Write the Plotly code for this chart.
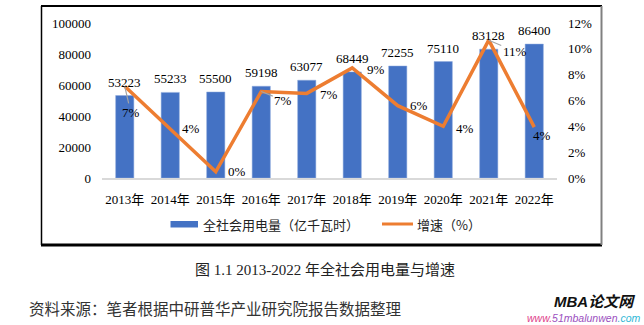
import plotly.graph_objects as go

# 全社会用电量（亿千瓦时）与增速
years = ["2013年", "2014年", "2015年", "2016年", "2017年",
         "2018年", "2019年", "2020年", "2021年", "2022年"]
consumption = [53223, 55233, 55500, 59198, 63077, 68449, 72255, 75110, 83128, 86400]
growth = [0.071, 0.038, 0.0048, 0.067, 0.0655, 0.0852, 0.056, 0.040, 0.1067, 0.0394]

# label offsets for the growth-rate labels (pixels, right / down)
label_dx = [6, 21, 21, 22, 22, 24, 21, 22, 26, 8]
label_dy = [26, 0, 0, 9, 1, 2, 0, 2, 11, 8]
leader = [True, False, False, True, False, False, False, False, True, False]

BLUE = "#4472C4"
ORANGE = "#ED7D31"
SERIF = "Liberation Serif, Noto Sans CJK SC, serif"
CJK = "Noto Sans CJK SC, sans-serif"

W, H = 644, 325
ML, MR, MT, MB = 102, 87, 23, 147
PW, PH = W - ML - MR, H - MT - MB


def px(x):
    return (x - ML) / PW


def py(y):
    return (H - MB - y) / PH


fig = go.Figure()
fig.add_trace(go.Bar(
    x=years, y=consumption, name="全社会用电量（亿千瓦时）",
    marker=dict(color=BLUE, line=dict(color="#8FAADC", width=0.5)),
    width=0.4, cliponaxis=False, showlegend=False,
))
fig.add_trace(go.Scatter(
    x=years, y=growth, name="增速（%）", yaxis="y2", mode="lines",
    line=dict(color=ORANGE, width=3.5), showlegend=False, cliponaxis=False,
))

annotations = []
# value labels above the bars
for yr, v in zip(years, consumption):
    annotations.append(dict(
        x=yr, y=v, xref="x", yref="y", text=str(v), showarrow=False,
        yanchor="bottom", yshift=4,
        font=dict(family=SERIF, size=13, color="#000000"),
    ))
# growth-rate labels
for yr, g, dx, dy, ld in zip(years, growth, label_dx, label_dy, leader):
    txt = f"{g:.0%}"
    if ld:
        annotations.append(dict(
            x=yr, y=g, xref="x", yref="y2", text=txt, showarrow=True,
            ax=dx, ay=dy, arrowhead=0, arrowwidth=1.2, arrowcolor="#A5A5A5",
            standoff=0, startstandoff=0,
            font=dict(family=SERIF, size=13, color="#000000"),
        ))
    else:
        annotations.append(dict(
            x=yr, y=g, xref="x", yref="y2", text=txt, showarrow=False,
            xshift=dx, yshift=-dy,
            font=dict(family=SERIF, size=13, color="#000000"),
        ))

# custom legend
annotations += [
    dict(x=px(201), y=py(224), xref="paper", yref="paper", xanchor="left",
         yanchor="middle", text="全社会用电量（亿千瓦时）", showarrow=False,
         font=dict(family=CJK, size=13, color="#222222")),
    dict(x=px(415), y=py(224), xref="paper", yref="paper", xanchor="left",
         yanchor="middle", text="增速（%）", showarrow=False,
         font=dict(family=CJK, size=13, color="#222222")),
    # caption and source
    dict(x=px(325), y=py(269), xref="paper", yref="paper", xanchor="center",
         yanchor="middle", text="图 1.1 2013-2022 年全社会用电量与增速",
         showarrow=False, font=dict(family=SERIF, size=15, color="#222222")),
    dict(x=px(27), y=py(308), xref="paper", yref="paper", xanchor="left",
         yanchor="middle", text="资料来源：笔者根据中研普华产业研究院报告数据整理",
         showarrow=False, font=dict(family=CJK, size=15.5, color="#333333")),
    dict(x=px(637), y=py(301), xref="paper", yref="paper", xanchor="right",
         yanchor="middle", text="<b><i>MBA论文网</i></b>", showarrow=False,
         font=dict(family="Liberation Sans, Noto Sans CJK SC", size=15, color="#111111")),
    dict(x=px(642), y=py(318), xref="paper", yref="paper", xanchor="right",
         yanchor="middle",
         text="<i><span style='color:#E0408A'>www.</span>"
              "<span style='color:#9B4FC0'>51mbalunwen</span>"
              "<span style='color:#2FB7D6'>.com</span></i>",
         showarrow=False, font=dict(family="Liberation Sans", size=10.5)),
]

shapes = [
    # legend swatches
    dict(type="rect", xref="paper", yref="paper", x0=px(170.5), x1=px(198),
         y0=py(227.5), y1=py(221), fillcolor=BLUE, line=dict(width=0)),
    dict(type="line", xref="paper", yref="paper", x0=px(382), x1=px(413),
         y0=py(224), y1=py(224), line=dict(color=ORANGE, width=3)),
    # chart frame
    dict(type="line", xref="paper", yref="paper", x0=px(41), x1=px(602),
         y0=py(6), y1=py(6), line=dict(color="#000000", width=2)),
    dict(type="line", xref="paper", yref="paper", x0=px(41.5), x1=px(41.5),
         y0=py(6), y1=py(245), line=dict(color="#000000", width=1.5)),
    dict(type="line", xref="paper", yref="paper", x0=px(41), x1=px(602),
         y0=py(245), y1=py(245), line=dict(color="#000000", width=3)),
    dict(type="line", xref="paper", yref="paper", x0=px(601.5), x1=px(601.5),
         y0=py(6), y1=py(245), line=dict(color="#808080", width=2)),
]

fig.update_layout(
    width=W, height=H,
    margin=dict(l=ML, r=MR, t=MT, b=MB, pad=0),
    paper_bgcolor="#FFFFFF", plot_bgcolor="#FFFFFF",
    bargap=0.6,
    xaxis=dict(
        type="category", showgrid=False, showline=True,
        linecolor="#D9D9D9", linewidth=2, ticks="",
        tickfont=dict(family=SERIF, size=13, color="#000000"),
        ticklabelstandoff=8,
    ),
    yaxis=dict(
        range=[0, 100000], dtick=20000, showgrid=False, zeroline=False,
        showline=False, tickformat="d",
        tickfont=dict(family=SERIF, size=13, color="#000000"),
        ticklabelstandoff=10,
    ),
    yaxis2=dict(
        range=[0, 0.12], dtick=0.02, overlaying="y", side="right",
        showgrid=False, zeroline=False, showline=False, tickformat=".0%",
        tickfont=dict(family=SERIF, size=13, color="#000000"),
        ticklabelstandoff=10,
    ),
    annotations=annotations,
    shapes=shapes,
)

fig.write_html("out.html")
